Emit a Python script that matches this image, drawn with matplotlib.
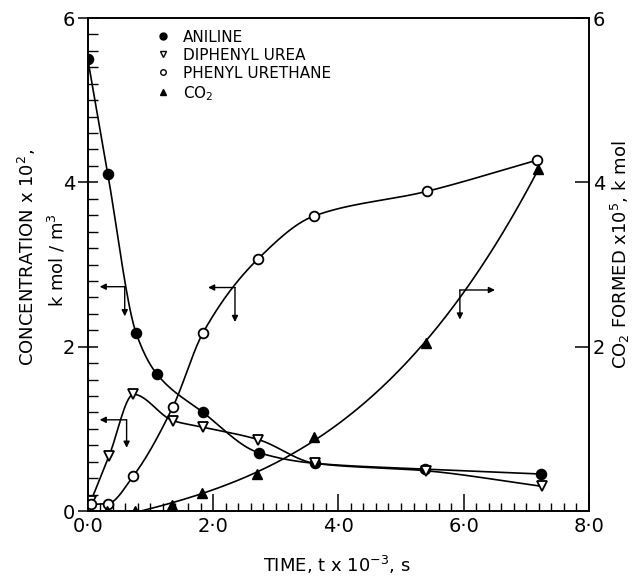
import numpy as np
import matplotlib
matplotlib.use("Agg")
import matplotlib.pyplot as plt
from matplotlib.lines import Line2D

plt.rcParams['font.family'] = ['DejaVu Sans']
plt.rcParams['mathtext.fontset'] = 'dejavusans'

# values (time x 10^-3 s)
aniline_t = [0.0, 0.32, 0.77, 1.10, 1.84, 2.73, 3.63, 5.38, 7.24]
aniline_c = [5.50, 4.10, 2.17, 1.67, 1.20, 0.71, 0.58, 0.51, 0.45]

urea_t = [0.05, 0.34, 0.73, 1.36, 1.84, 2.72, 3.63, 5.40, 7.25]
urea_c = [0.12, 0.67, 1.42, 1.10, 1.02, 0.87, 0.58, 0.49, 0.30]

urethane_t = [0.05, 0.32, 0.73, 1.36, 1.84, 2.72, 3.61, 5.41, 7.17]
urethane_c = [0.08, 0.09, 0.43, 1.27, 2.17, 3.07, 3.59, 3.89, 4.27]

co2_t = [0.30, 0.75, 1.34, 1.82, 2.70, 3.61, 5.40, 7.19]
co2_n = [0.0, 0.0, 0.07, 0.22, 0.45, 0.90, 2.05, 4.16]

legend_labels = ['ANILINE', 'DIPHENYL UREA', 'PHENYL URETHANE', 'CO$_2$']

# axis indicator arrows: (corner x, corner y, horizontal end x, vertical end y)
indicators = [
    (0.59, 2.73, 0.19, 2.37),
    (0.62, 1.11, 0.19, 0.77),
    (2.35, 2.72, 1.92, 2.30),
    (5.94, 2.69, 6.50, 2.33),
]


def smooth(x, y, n=300):
    # monotone cubic (Fritsch-Carlson) just for drawing the line
    x = np.asarray(x, float)
    y = np.asarray(y, float)
    h = np.diff(x)
    d = np.diff(y) / h
    m = np.zeros_like(y)
    m[0], m[-1] = d[0], d[-1]
    for i in range(1, len(x) - 1):
        if d[i - 1] * d[i] > 0:
            w1 = 2 * h[i] + h[i - 1]
            w2 = h[i] + 2 * h[i - 1]
            m[i] = (w1 + w2) / (w1 / d[i - 1] + w2 / d[i])
    xs = np.linspace(x[0], x[-1], n)
    k = np.clip(np.searchsorted(x, xs) - 1, 0, len(x) - 2)
    t = (xs - x[k]) / h[k]
    h00 = 2 * t**3 - 3 * t**2 + 1
    h10 = t**3 - 2 * t**2 + t
    h01 = -2 * t**3 + 3 * t**2
    h11 = t**3 - t**2
    ys = h00 * y[k] + h10 * h[k] * m[k] + h01 * y[k + 1] + h11 * h[k] * m[k + 1]
    return xs, ys


fig = plt.figure(figsize=(6.36, 5.79), dpi=100)
ax = fig.add_axes([0.138, 0.1174, 0.788, 0.8515])
ax2 = ax.twinx()

lw = 1.2
ms = 7
for xs, ys, mk, fc in [(aniline_t, aniline_c, 'o', 'black'),
                       (urea_t, urea_c, 'v', 'white'),
                       (urethane_t, urethane_c, 'o', 'white')]:
    sx, sy = smooth(xs, ys)
    ax.plot(sx, sy, color='black', lw=lw, zorder=2)
    ax.plot(xs, ys, ls='none', marker=mk, ms=ms, mfc=fc, mec='black', mew=1.3, zorder=3)

# CO2 line is a smooth cubic drawn through the readings
coef = np.polyfit(co2_t[1:], co2_n[1:], 3)
sx = np.linspace(co2_t[1], co2_t[-1], 300)
sy = np.clip(np.polyval(coef, sx), 0, None)
ax2.plot(sx, sy, color='black', lw=lw, zorder=2)
ax2.plot(co2_t, co2_n, ls='none', marker='^', ms=ms, mfc='black', mec='black', zorder=3)

for cx, cy, hx, vy in indicators:
    ax.annotate('', xy=(hx, cy), xytext=(cx, cy),
                arrowprops=dict(arrowstyle='-|>', color='black', lw=1.0,
                                mutation_scale=9, shrinkA=0, shrinkB=0))
    ax.annotate('', xy=(cx, vy), xytext=(cx, cy),
                arrowprops=dict(arrowstyle='-|>', color='black', lw=1.0,
                                mutation_scale=9, shrinkA=0, shrinkB=0))

ax.set_xlim(0, 8)
ax.set_ylim(0, 6)
ax2.set_ylim(0, 6)

ax.set_xticks([0, 2, 4, 6, 8])
ax.set_xticklabels(['0·0', '2·0', '4·0', '6·0', '8·0'])
ax.set_xticks(np.arange(0, 8.01, 0.2), minor=True)
ax.set_yticks([0, 2, 4, 6])
ax.set_yticklabels(['0', '2', '4', '6'])
ax.set_yticks(np.arange(0, 6.01, 0.2), minor=True)
ax2.set_yticks([2, 4, 6])
ax2.set_yticklabels(['2', '4', '6'])

ax.tick_params(axis='x', which='major', direction='in', length=12, width=1.1,
               labelsize=14, pad=4, top=False)
ax.tick_params(axis='x', which='minor', direction='in', length=6, width=1.0, top=False)
ax.tick_params(axis='y', which='major', direction='inout', length=14, width=1.1,
               labelsize=14, pad=2)
ax.tick_params(axis='y', which='minor', direction='in', length=7, width=1.0)
ax2.tick_params(axis='y', which='major', direction='in', length=10, width=1.1,
                labelsize=14, pad=3)

for a in (ax, ax2):
    for s in a.spines.values():
        s.set_linewidth(1.2)

handles = [
    Line2D([], [], ls='none', marker='o', mfc='black', mec='black', ms=5),
    Line2D([], [], ls='none', marker='v', mfc='white', mec='black', ms=5),
    Line2D([], [], ls='none', marker='o', mfc='white', mec='black', ms=4),
    Line2D([], [], ls='none', marker='^', mfc='black', mec='black', ms=5),
]
ax.legend(handles, legend_labels, loc='upper left', bbox_to_anchor=(0.12, 0.995),
          frameon=False, fontsize=11, handlelength=0.8, handletextpad=0.9,
          labelspacing=0.2, borderaxespad=0.2)

fig.text(0.042, 0.555, 'CONCENTRATION x 10$^2$,', rotation=90,
         ha='center', va='center', fontsize=13)
fig.text(0.090, 0.550, 'k mol / m$^3$', rotation=90,
         ha='center', va='center', fontsize=13)
fig.text(0.975, 0.56, 'CO$_2$ FORMED x10$^5$, k mol', rotation=90,
         ha='center', va='center', fontsize=13)
fig.text(0.53, 0.006, 'TIME, t x 10$^{-3}$, s', ha='center', va='bottom', fontsize=13)

fig.savefig('out.png', dpi=100)
